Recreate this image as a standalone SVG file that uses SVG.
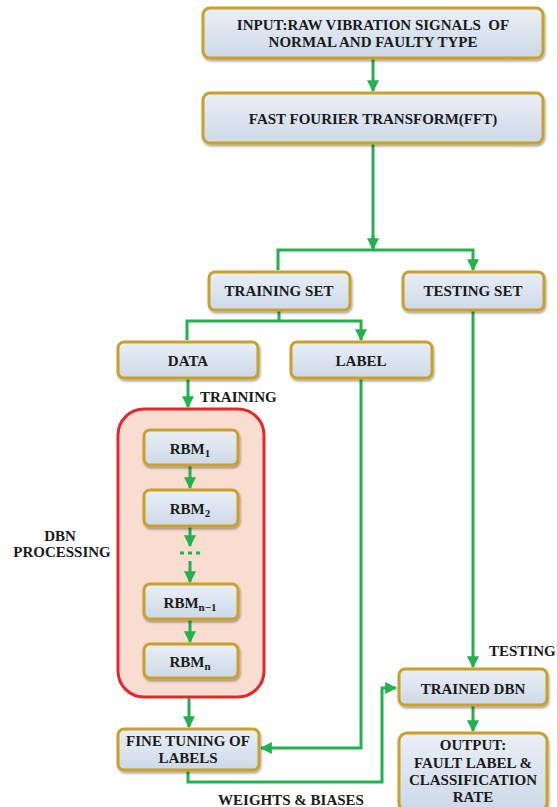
<svg xmlns="http://www.w3.org/2000/svg" width="557" height="807" viewBox="0 0 557 807">
<defs>
<linearGradient id="bf" x1="0" y1="0" x2="0" y2="1">
<stop offset="0" stop-color="#e9eff7"/>
<stop offset="1" stop-color="#cdd9e8"/>
</linearGradient>
<filter id="sh" x="-10%" y="-20%" width="120%" height="150%">
<feDropShadow dx="1" dy="2" stdDeviation="1.2" flood-color="#000" flood-opacity="0.35"/>
</filter>
<marker id="ah" viewBox="0 0 10 10" refX="9" refY="5" markerWidth="4" markerHeight="4" orient="auto" markerUnits="strokeWidth">
<path d="M0,0 L10,5 L0,10 z" fill="#22b14c"/>
</marker>
<style>
.box{fill:url(#bf);stroke:#c9a02a;stroke-width:3;filter:url(#sh)}
.t{font-family:"Liberation Serif","Times New Roman",serif;font-weight:bold;font-size:15px;fill:#1a1a1a;text-anchor:middle}
.lbl{font-family:"Liberation Serif","Times New Roman",serif;font-weight:bold;font-size:15px;fill:#1a1a1a}
.c{fill:none;stroke:#22b14c;stroke-width:3}
.ca{fill:none;stroke:#22b14c;stroke-width:3;marker-end:url(#ah)}
</style>
</defs>
<rect width="557" height="807" fill="#fff"/>

<g id="dbn-container">
<rect x="118" y="409" width="146" height="288" rx="26" fill="#f8ddd0" stroke="#e8262a" stroke-width="3"/>
</g>

<g id="connectors">
<line class="ca" x1="373" y1="59" x2="373" y2="91"/>
<line class="c" x1="373" y1="144" x2="373" y2="250"/>
<polyline class="ca" points="278,270 278,250 473,250 473,270"/>
<line class="ca" x1="373" y1="236" x2="373" y2="249"/>
<line class="c" x1="279" y1="311" x2="279" y2="321"/>
<polyline class="ca" points="187,340 187,321 361,321 361,340"/>
<line class="ca" x1="188" y1="379" x2="188" y2="407"/>
<line class="ca" x1="190" y1="466" x2="190" y2="488"/>
<line class="ca" x1="190" y1="527" x2="190" y2="546"/>
<line x1="180" y1="553" x2="202" y2="553" stroke="#22b14c" stroke-width="3" stroke-dasharray="4,4"/>
<line class="ca" x1="190" y1="561" x2="190" y2="582"/>
<line class="ca" x1="190" y1="620" x2="190" y2="642"/>
<line class="ca" x1="189" y1="698" x2="189" y2="727"/>
<polyline class="ca" points="361,379 361,748 261,748"/>
<polyline class="ca" points="188,771 188,782 382,782 382,688 396,688"/>
<line class="ca" x1="473" y1="311" x2="473" y2="667"/>
<line class="ca" x1="473" y1="706" x2="473" y2="731"/>
</g>

<g id="input">
<rect class="box" x="203" y="8" width="340" height="50" rx="7"/>
<text class="t" x="373" y="30" xml:space="preserve">INPUT:RAW VIBRATION SIGNALS  OF</text>
<text class="t" x="373" y="47">NORMAL AND FAULTY TYPE</text>
</g>
<g id="fft">
<rect class="box" x="203" y="93" width="340" height="50" rx="7"/>
<text class="t" x="373" y="124">FAST FOURIER TRANSFORM(FFT)</text>
</g>
<g id="training-set">
<rect class="box" x="209" y="272" width="141" height="38" rx="6"/>
<text class="t" x="279" y="296">TRAINING SET</text>
</g>
<g id="testing-set">
<rect class="box" x="403" y="272" width="141" height="38" rx="6"/>
<text class="t" x="473" y="296">TESTING SET</text>
</g>
<g id="data">
<rect class="box" x="118" y="342" width="140" height="36" rx="6"/>
<text class="t" x="188" y="366">DATA</text>
</g>
<g id="label">
<rect class="box" x="291" y="342" width="141" height="36" rx="6"/>
<text class="t" x="361" y="366">LABEL</text>
</g>
<g id="rbm1">
<rect class="box" x="144" y="430" width="94" height="35" rx="6"/>
<text class="t" x="190" y="454">RBM<tspan font-size="11" dy="3">1</tspan></text>
</g>
<g id="rbm2">
<rect class="box" x="144" y="490" width="94" height="36" rx="6"/>
<text class="t" x="190" y="514">RBM<tspan font-size="11" dy="3">2</tspan></text>
</g>
<g id="rbmn1">
<rect class="box" x="144" y="584" width="94" height="35" rx="6"/>
<text class="t" x="190" y="608">RBM<tspan font-size="11" dy="3">n−1</tspan></text>
</g>
<g id="rbmn">
<rect class="box" x="144" y="644" width="94" height="34" rx="6"/>
<text class="t" x="190" y="667">RBM<tspan font-size="11" dy="3">n</tspan></text>
</g>
<g id="fine-tuning">
<rect class="box" x="118" y="729" width="141" height="41" rx="6"/>
<text class="t" x="188" y="746">FINE TUNING OF</text>
<text class="t" x="188" y="763">LABELS</text>
</g>
<g id="trained-dbn">
<rect class="box" x="399" y="669" width="148" height="36" rx="6"/>
<text class="t" x="473" y="694">TRAINED DBN</text>
</g>
<g id="output">
<rect class="box" x="399" y="733" width="148" height="78" rx="8"/>
<text class="t" x="473" y="750">OUTPUT:</text>
<text class="t" x="473" y="768">FAULT LABEL &amp;</text>
<text class="t" x="473" y="785">CLASSIFICATION</text>
<text class="t" x="473" y="802">RATE</text>
</g>

<g id="labels">
<text class="lbl" x="200" y="402">TRAINING</text>
<text class="t" x="60" y="541">DBN</text>
<text class="t" x="62" y="557">PROCESSING</text>
<text class="lbl" x="489" y="656" font-size="14.5">TESTING</text>
<text class="t" x="291" y="805">WEIGHTS &amp; BIASES</text>
</g>
</svg>
